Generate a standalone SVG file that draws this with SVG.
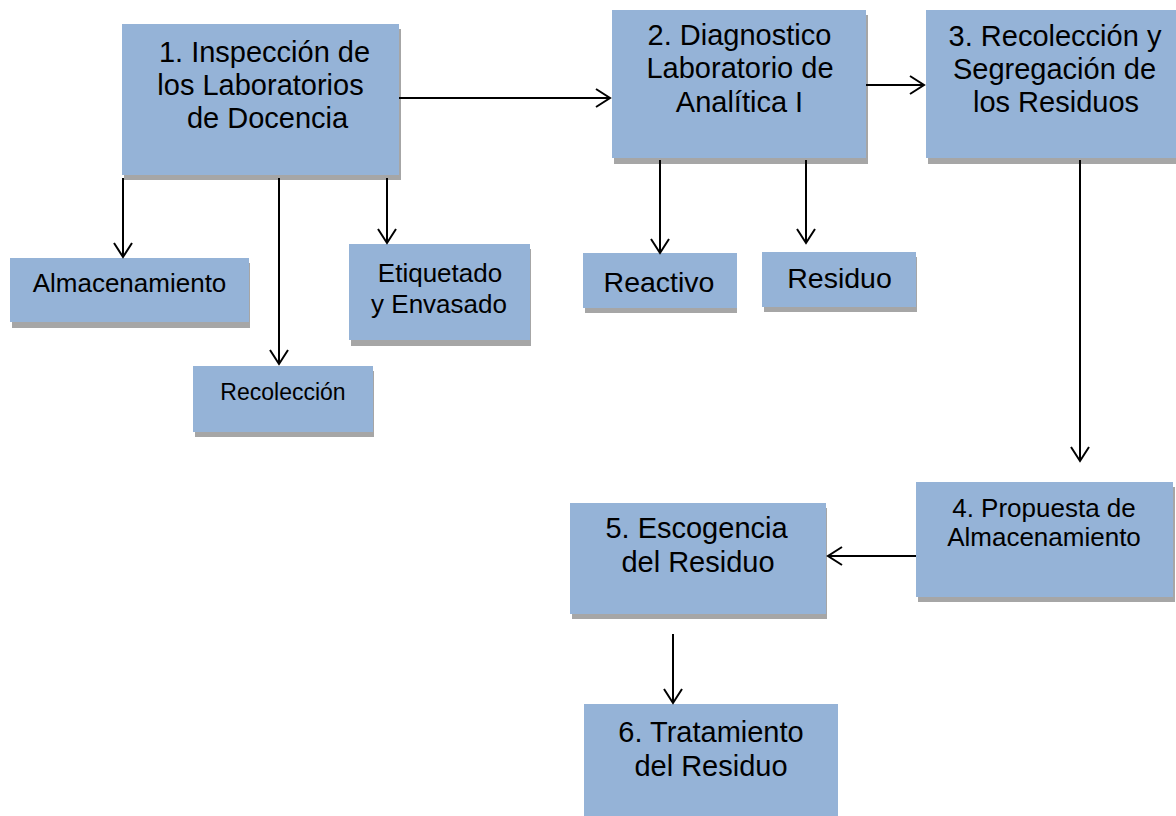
<svg xmlns="http://www.w3.org/2000/svg" width="1176" height="816" viewBox="0 0 1176 816">
<style>
.box{fill:#95b3d7}
.sh{fill:#a6a6a6}
text{font-family:"Liberation Sans",Arial,sans-serif;fill:#000;text-anchor:middle}
.big{font-size:29px}
.c line{stroke:#000;stroke-width:2;fill:none;marker-end:url(#a)}
</style>
<defs>
<marker id="a" viewBox="0 0 20 20" refX="18" refY="10" markerWidth="20" markerHeight="20" markerUnits="userSpaceOnUse" orient="auto">
<path d="M4,1 L18,10 L4,19" fill="none" stroke="#000" stroke-width="2"/>
</marker>
</defs>
<rect width="1176" height="816" fill="#fff"/>
<g id="n1"><rect class="sh" x="124" y="29" width="277" height="151"/><rect class="box" x="122" y="24" width="277" height="151"/>
<text class="big"><tspan x="264.5" y="62">1. Inspección de</tspan><tspan x="260.5" y="95">los Laboratorios</tspan><tspan x="267.5" y="128">de Docencia</tspan></text></g>
<g id="n2"><rect class="sh" x="614" y="15" width="254" height="149"/><rect class="box" x="612" y="10" width="254" height="148"/>
<text class="big"><tspan x="739.5" y="45">2. Diagnostico</tspan><tspan x="740" y="78">Laboratorio de</tspan><tspan x="739.5" y="112">Analítica I</tspan></text></g>
<g id="n3"><rect class="sh" x="928" y="15" width="248" height="149"/><rect class="box" x="926" y="10" width="250" height="148"/>
<text class="big"><tspan x="1055" y="46">3. Recolección y</tspan><tspan x="1054.5" y="79">Segregación de</tspan><tspan x="1056" y="112">los Residuos</tspan></text></g>
<g id="n4"><rect class="sh" x="918" y="487" width="257" height="115"/><rect class="box" x="916" y="482" width="257" height="115"/>
<text font-size="26"><tspan x="1044" y="517">4. Propuesta de</tspan><tspan x="1044" y="546">Almacenamiento</tspan></text></g>
<g id="n5"><rect class="sh" x="572" y="508" width="255" height="111"/><rect class="box" x="570" y="503" width="256" height="111"/>
<text class="big"><tspan x="696.5" y="538">5. Escogencia</tspan><tspan x="698" y="572">del Residuo</tspan></text></g>
<g id="n6"><rect class="box" x="584" y="704" width="254" height="112"/>
<text class="big"><tspan x="711" y="742">6. Tratamiento</tspan><tspan x="711" y="776">del Residuo</tspan></text></g>
<g id="alm"><rect class="sh" x="12" y="263" width="238" height="65"/><rect class="box" x="10" y="258" width="239" height="64"/>
<text font-size="26" x="129.5" y="292">Almacenamiento</text></g>
<g id="rec"><rect class="sh" x="195" y="371" width="179" height="66"/><rect class="box" x="193" y="366" width="180" height="66"/>
<text font-size="23" x="283" y="400">Recolección</text></g>
<g id="eti"><rect class="sh" x="351" y="249" width="180" height="97"/><rect class="box" x="349" y="244" width="181" height="96"/>
<text font-size="26"><tspan x="440" y="282">Etiquetado</tspan><tspan x="439" y="313">y Envasado</tspan></text></g>
<g id="rea"><rect class="sh" x="585" y="258" width="152" height="55"/><rect class="box" x="583" y="253" width="154" height="55"/>
<text font-size="28.5" x="659" y="292">Reactivo</text></g>
<g id="res"><rect class="sh" x="764" y="257" width="153" height="55"/><rect class="box" x="762" y="252" width="154" height="55"/>
<text font-size="28.5" x="839.5" y="288">Residuo</text></g>
<g class="c" id="connectors">
<line x1="399" y1="98" x2="610" y2="98"/>
<line x1="866" y1="85" x2="924" y2="85"/>
<line x1="123" y1="178" x2="123" y2="257"/>
<line x1="279" y1="178" x2="279" y2="364"/>
<line x1="387" y1="178" x2="387" y2="243"/>
<line x1="660" y1="160" x2="660" y2="253"/>
<line x1="806" y1="160" x2="806" y2="243"/>
<line x1="1080" y1="160" x2="1080" y2="461"/>
<line x1="916" y1="556" x2="828" y2="556"/>
<line x1="673" y1="634" x2="673" y2="703"/>
</g>
</svg>
